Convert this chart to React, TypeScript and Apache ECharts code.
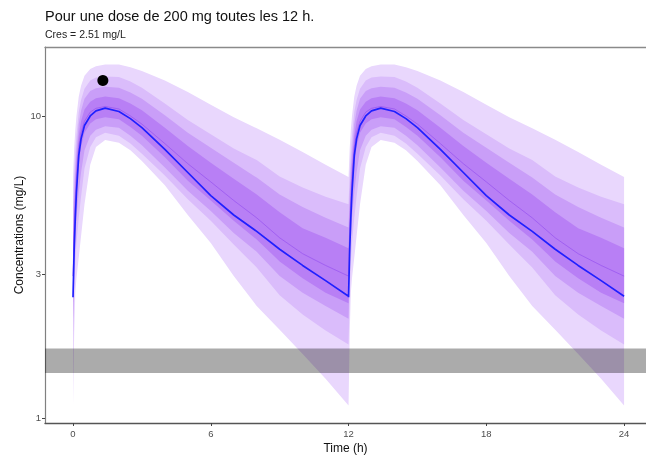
import React, { useEffect, useRef } from 'react';
import * as echarts from 'echarts';

const TITLE = 'Pour une dose de 200 mg toutes les 12 h.';
const SUBTITLE = 'Cres = 2.51 mg/L';
const X_LABEL = 'Time (h)';
const Y_LABEL = 'Concentrations (mg/L)';
const X_TICKS = [0, 6, 12, 18, 24];
const Y_TICKS = [1, 3, 10];

// dosing times (h) and time after dose (h) for one interval
const DOSE_TIMES = [0, 12];
const TAU = [0, 0.05, 0.1, 0.15, 0.25, 0.35, 0.5, 0.75, 1, 1.4, 2, 2.5, 3, 4, 5, 6, 7, 8, 9, 10, 11, 12];

// typical (blue) profile and median of the simulated profiles
const TYPICAL = [2.51, 3.6, 4.6, 5.6, 7.4, 8.4, 9.3, 10.0, 10.4, 10.62, 10.35, 9.8, 9.15, 7.75, 6.5, 5.45, 4.7, 4.15, 3.62, 3.2, 2.85, 2.53];
const MEDIAN = [2.95, 4.1, 5.2, 6.2, 7.9, 8.8, 9.6, 10.3, 10.6, 10.75, 10.55, 10.0, 9.4, 8.1, 6.95, 6.05, 5.25, 4.6, 3.95, 3.5, 3.2, 2.95];

// prediction bands, outer to inner
const BAND1_LO = [1.1, 1.9, 2.6, 2.9, 3.4, 4.0, 5.1, 6.9, 7.9, 8.33, 8.15, 7.7, 7.1, 5.9, 4.7, 3.8, 2.95, 2.35, 1.96, 1.63, 1.35, 1.1];
const BAND1_HI = [6.28, 7.8, 9.0, 10.0, 11.6, 12.6, 13.6, 14.3, 14.6, 14.8, 14.8, 14.5, 14.1, 13.1, 12.0, 10.9, 9.9, 9.1, 8.35, 7.6, 6.9, 6.28];
const BAND2_LO = [1.75, 2.5, 3.3, 3.8, 4.6, 5.4, 6.7, 7.9, 8.5, 8.8, 8.6, 8.1, 7.5, 6.35, 5.3, 4.5, 3.75, 3.15, 2.55, 2.2, 1.95, 1.75];
const BAND2_HI = [5.1, 6.4, 7.6, 8.6, 10.3, 11.3, 12.3, 13.1, 13.4, 13.5, 13.45, 13.0, 12.4, 11.0, 9.7, 8.7, 7.8, 7.15, 6.3, 5.8, 5.4, 5.1];
const BAND3_LO = [2.13, 3.0, 3.9, 4.6, 5.6, 6.5, 7.7, 8.6, 9.0, 9.25, 9.15, 8.6, 8.0, 6.75, 5.65, 4.85, 4.1, 3.55, 2.95, 2.6, 2.35, 2.13];
const BAND3_HI = [4.27, 5.5, 6.7, 7.7, 9.4, 10.4, 11.4, 12.1, 12.35, 12.5, 12.4, 11.95, 11.4, 10.05, 8.8, 7.85, 7.0, 6.25, 5.5, 5.0, 4.6, 4.27];
const BAND4_LO = [2.4, 3.45, 4.5, 5.4, 6.9, 7.9, 8.8, 9.45, 9.75, 9.9, 9.75, 9.2, 8.6, 7.3, 6.1, 5.25, 4.5, 3.9, 3.3, 2.9, 2.6, 2.4];
const BAND4_HI = [3.65, 4.8, 6.0, 7.0, 8.6, 9.6, 10.5, 11.15, 11.45, 11.6, 11.45, 11.0, 10.45, 9.15, 7.95, 7.0, 6.2, 5.5, 4.8, 4.25, 3.95, 3.65];

// observed concentration
const OBS_TIME = [1.3];
const OBS_CONC = [13.1];

// target range (grey band)
const TARGET_RANGE = [1.41, 1.7];

const BAND_COLORS = ['#e9d7fd', '#dabcfb', '#c99ef8', '#b87ff5'];
const FONT = '"Liberation Sans", Arial, Helvetica, sans-serif';

const BANDS = [
  [BAND1_LO, BAND1_HI],
  [BAND2_LO, BAND2_HI],
  [BAND3_LO, BAND3_HI],
  [BAND4_LO, BAND4_HI],
];

function profile(values: number[]): number[][] {
  const out: number[][] = [];
  DOSE_TIMES.forEach((d) => TAU.forEach((tau, i) => out.push([d + tau, values[i]])));
  return out;
}

const X_MIN = -1.22;
const X_MAX = 24.955;

export default function App() {
  const ref = useRef<HTMLDivElement>(null);
  useEffect(() => {
    if (!ref.current) return;
    const chart = echarts.init(ref.current, undefined, { renderer: 'svg' });
    const option: any = {
      animation: false,
      title: {
        text: TITLE,
        subtext: SUBTITLE,
        left: 40,
        top: 3,
        itemGap: 5,
        textStyle: { fontSize: 14.5, fontWeight: 'normal', color: '#111', fontFamily: FONT },
        subtextStyle: { fontSize: 10.5, color: '#222', fontFamily: FONT },
      },
      grid: {
        left: 45,
        right: 0,
        top: 47,
        bottom: 36,
      },
      xAxis: [
        {
          type: 'value',
          min: X_MIN,
          max: X_MAX,
          name: X_LABEL,
          nameLocation: 'middle',
          nameGap: 19,
          nameMoveOverlap: false,
          nameTextStyle: { fontSize: 12, color: '#111', fontFamily: FONT },
          axisLine: { show: true, onZero: false, lineStyle: { color: '#555', width: 1.4 } },
          axisTick: { show: true, length: 3, customValues: X_TICKS, lineStyle: { color: '#444' } },
          axisLabel: { customValues: X_TICKS, fontSize: 9.5, color: '#4d4d4d', margin: 5, fontFamily: FONT },
          splitLine: { show: false },
        },
        {
          type: 'value',
          position: 'top',
          min: X_MIN,
          max: X_MAX,
          axisLine: { show: true, onZero: false, lineStyle: { color: '#8a8a8a', width: 1.3 } },
          axisTick: { show: false },
          axisLabel: { show: false },
          splitLine: { show: false },
        },
      ],
      yAxis: {
        type: 'log',
        logBase: 10,
        min: 0.9625,
        max: 16.92,
        name: Y_LABEL,
        nameLocation: 'middle',
        nameGap: 20,
        nameMoveOverlap: false,
        nameTextStyle: { fontSize: 12, color: '#111', fontFamily: FONT },
        axisLine: { show: true, onZero: false, lineStyle: { color: '#808080', width: 1.2 } },
        axisTick: { show: true, length: 3, customValues: Y_TICKS, lineStyle: { color: '#444' } },
        axisLabel: { customValues: Y_TICKS, fontSize: 9.5, color: '#4d4d4d', margin: 4, fontFamily: FONT },
        splitLine: { show: false },
        minorTick: { show: false },
      },
      series: [
        {
          type: 'custom',
          silent: true,
          z: 1,
          data: BANDS.map((_, i) => [12, MEDIAN[i]]),
          encode: { x: 0, y: 1 },
          renderItem: (params: any, api: any) => {
            const [lo, hi] = BANDS[params.dataIndex];
            const upper = profile(hi).map((p) => api.coord(p));
            const lower = profile(lo).map((p) => api.coord(p)).reverse();
            return {
              type: 'polygon',
              shape: { points: upper.concat(lower) },
              style: { fill: BAND_COLORS[params.dataIndex] },
            };
          },
        },
        {
          type: 'line',
          silent: true,
          z: 3,
          data: profile(MEDIAN),
          showSymbol: false,
          lineStyle: { color: '#9a58f0', width: 0.8 },
        },
        {
          type: 'line',
          silent: true,
          z: 4,
          data: profile(TYPICAL),
          showSymbol: false,
          lineStyle: { color: '#2020ff', width: 1.7 },
        },
        {
          type: 'custom',
          silent: true,
          z: 5,
          data: [[0, TARGET_RANGE[0], TARGET_RANGE[1]]],
          encode: { x: 0, y: [1, 2] },
          renderItem: (params: any, api: any) => {
            const cs = params.coordSys;
            const top = api.coord([0, api.value(2)])[1];
            const bot = api.coord([0, api.value(1)])[1];
            return {
              type: 'rect',
              shape: { x: cs.x, y: top, width: cs.width, height: bot - top },
              style: { fill: 'rgba(0,0,0,0.33)' },
            };
          },
        },
        {
          type: 'scatter',
          silent: true,
          z: 6,
          data: OBS_TIME.map((t, i) => [t, OBS_CONC[i]]),
          symbolSize: 11,
          itemStyle: { color: '#000', opacity: 1 },
        },
      ],
    };
    chart.setOption(option);
    return () => chart.dispose();
  }, []);
  return <div ref={ref} style={{ position: 'fixed', left: 0, top: 0, width: 646, height: 459 }} />;
}
